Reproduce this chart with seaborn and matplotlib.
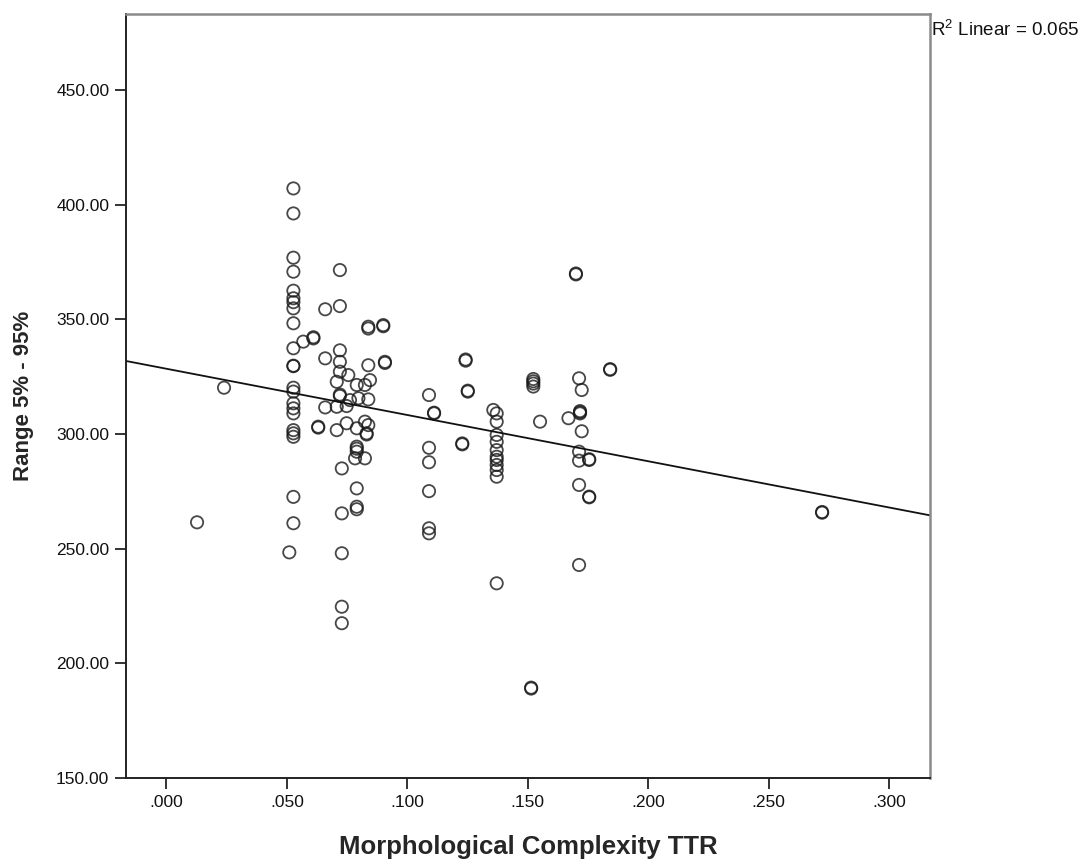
import matplotlib
matplotlib.use("Agg")
import matplotlib.pyplot as plt
import seaborn as sns
import pandas as pd

# ---- data ----
ttr = [
    0.0127, 0.0239, 0.051,
    0.0527, 0.0527, 0.0527, 0.0527, 0.0527, 0.0527, 0.0527, 0.0527, 0.0527, 0.0527, 0.0527,
    0.0527, 0.0527, 0.0527, 0.0527, 0.0527, 0.0527, 0.0527, 0.0527, 0.0527, 0.0527, 0.0527,
    0.0568, 0.061, 0.061, 0.063, 0.063,
    0.0659, 0.0659, 0.0659,
    0.0707, 0.0707, 0.0707,
    0.072, 0.072, 0.072, 0.072, 0.072, 0.072, 0.072,
    0.0728, 0.0728, 0.0728, 0.0728, 0.0728,
    0.0748, 0.0748, 0.0755, 0.0762,
    0.079, 0.079, 0.079, 0.079, 0.079, 0.079, 0.079, 0.079,
    0.0783, 0.0797,
    0.0824, 0.0824, 0.0824,
    0.0831, 0.0831,
    0.0838, 0.0838, 0.0838, 0.0838, 0.0838,
    0.0845, 0.0900, 0.0900, 0.0907, 0.0907,
    0.109, 0.109, 0.109, 0.109, 0.109, 0.109,
    0.1111, 0.1111, 0.1228, 0.1228, 0.1242, 0.1242, 0.1251, 0.1251,
    0.1357,
    0.1371, 0.1371, 0.1371, 0.1371, 0.1371, 0.1371, 0.1371, 0.1371, 0.1371, 0.1371, 0.1371,
    0.1514, 0.1514,
    0.1523, 0.1523, 0.1523, 0.1523,
    0.1551, 0.1669, 0.170, 0.170,
    0.1713, 0.1713, 0.1713, 0.1713, 0.1713,
    0.1717, 0.1717, 0.1717,
    0.1724, 0.1724,
    0.1755, 0.1755, 0.1755, 0.1755,
    0.1842, 0.1842,
    0.2722, 0.2722,
]
range_5_95 = [
    261.5, 320.2, 248.4,
    407.1, 396.2, 376.9, 370.8, 362.5, 359.2, 357.5, 354.8, 348.3, 337.4, 329.8,
    329.6, 320.2, 318.5, 313.4, 311.2, 309.0, 301.7, 300.3, 298.8, 272.6, 261.1,
    340.3, 342.2, 341.7, 303.2, 302.8,
    354.4, 333.0, 311.6,
    322.8, 311.9, 301.7,
    371.5, 355.8, 336.5, 331.5, 327.2, 317.2, 316.6,
    285.0, 265.4, 248.0, 224.7, 217.5,
    312.2, 304.7, 325.7, 314.8,
    321.4, 302.5, 294.5, 293.6, 292.3, 276.3, 268.3, 267.2,
    289.4, 315.6,
    321.4, 305.4, 289.4,
    300.3, 299.8,
    346.8, 346.0, 330.0, 315.1, 303.9,
    323.5, 347.5, 347.0, 331.5, 331.0,
    317.0, 294.0, 287.7, 275.1, 258.9, 256.7,
    309.3, 309.0, 295.9, 295.5, 332.5, 332.0, 318.9, 318.5,
    310.5,
    309.0, 305.4, 299.6, 296.6, 293.0, 290.1, 288.7, 286.5, 284.3, 281.4, 234.9,
    189.4, 189.0,
    324.0, 323.0, 322.0, 320.7,
    305.4, 306.9, 370.0, 369.6,
    324.3, 292.3, 288.4, 277.8, 242.9,
    310.0, 309.5, 309.0,
    319.2, 301.2,
    289.0, 288.7, 272.7, 272.4,
    328.3, 328.0,
    266.0, 265.7,
]
x_ticks = [0.0, 0.05, 0.10, 0.15, 0.20, 0.25, 0.30]
x_tick_labels = [".000", ".050", ".100", ".150", ".200", ".250", ".300"]
y_ticks = [150, 200, 250, 300, 350, 400, 450]
y_tick_labels = ["150.00", "200.00", "250.00", "300.00", "350.00", "400.00", "450.00"]
r2_label = "R$^2$ Linear = 0.065"

df = pd.DataFrame({"ttr": ttr, "range": range_5_95})

sns.set_style("white")
plt.rcParams["font.family"] = ["Liberation Sans", "DejaVu Sans"]
plt.rcParams["mathtext.fontset"] = "custom"
plt.rcParams["mathtext.rm"] = "Liberation Sans"

fig = plt.figure(figsize=(10.92, 8.61), dpi=100)
ax = fig.add_axes([126 / 1092, 1 - 778 / 861, (930 - 126) / 1092, (778 - 13.7) / 861])
ax.set_xlim(-0.0168, 0.317)
ax.set_ylim(150, 483.3)

sns.regplot(
    data=df, x="ttr", y="range", ax=ax, ci=None, truncate=False,
    marker="o",
    scatter_kws=dict(s=78, facecolors="none", edgecolors="#1a1a1a",
                     linewidths=1.3, alpha=0.8),
    line_kws=dict(color="#111111", linewidth=1.3),
)

ax.set_xticks(x_ticks)
ax.set_xticklabels(x_tick_labels)
ax.set_yticks(y_ticks)
ax.set_yticklabels(y_tick_labels)
ax.tick_params(axis="both", direction="out", length=8, width=1.2,
               colors="#111111", labelsize=12.5, pad=4, bottom=True, left=True)

for side in ["left", "bottom"]:
    ax.spines[side].set_color("#222222")
    ax.spines[side].set_linewidth(1.4)
for side in ["top", "right"]:
    ax.spines[side].set_color("#8a8a8a")
    ax.spines[side].set_linewidth(1.8)

ax.set_xlabel("Morphological Complexity TTR", fontsize=18.5, fontweight="bold", labelpad=18)
ax.set_ylabel("Range 5% - 95%", fontsize=16, fontweight="bold", labelpad=16)

ax.text(1.0012, 0.9708, r2_label, transform=ax.transAxes, ha="left", va="baseline",
        fontsize=13.5, color="#111111")

fig.savefig("out.png", dpi=100)
